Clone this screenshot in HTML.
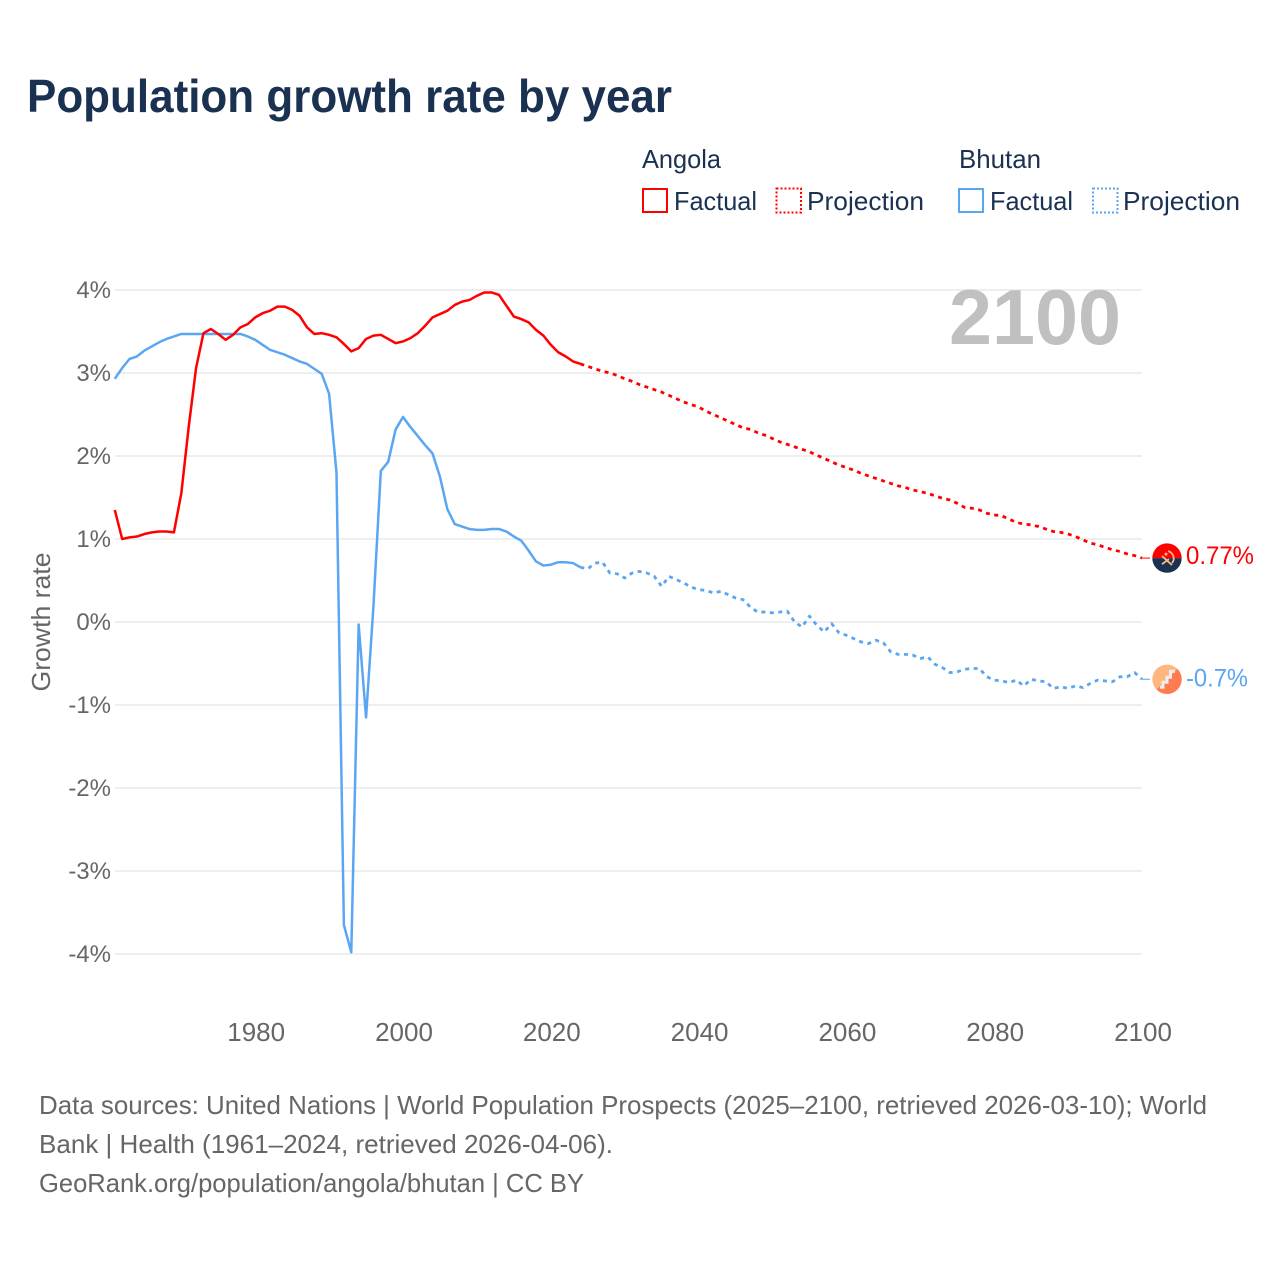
<!DOCTYPE html>
<html lang="en">
<head>
<meta charset="utf-8">
<title>Population growth rate by year</title>
<style>
html,body{margin:0;padding:0;background:#fff;width:1280px;height:1280px;overflow:hidden}
svg{display:block}
text{font-family:"Liberation Sans",sans-serif}
</style>
</head>
<body>
<svg id="chart" xmlns="http://www.w3.org/2000/svg" width="1280" height="1280" viewBox="0 0 1280 1280">
  <text x="27" y="112" font-size="46" font-weight="700" fill="#1a3152" textLength="645" lengthAdjust="spacingAndGlyphs">Population growth rate by year</text>

  <g font-size="26" fill="#1a3152">
    <text x="642" y="168" textLength="79" lengthAdjust="spacingAndGlyphs">Angola</text>
    <rect x="643" y="189" width="24" height="23" fill="none" stroke="#ff0000" stroke-width="2"/>
    <text x="674" y="210" textLength="83" lengthAdjust="spacingAndGlyphs">Factual</text>
    <rect x="776.5" y="188.500" width="24.500" height="24" fill="none" stroke="#ff0000" stroke-width="2" stroke-dasharray="2 2"/>
    <text x="807" y="210" textLength="117" lengthAdjust="spacingAndGlyphs">Projection</text>
    <text x="959" y="168" textLength="82" lengthAdjust="spacingAndGlyphs">Bhutan</text>
    <rect x="959" y="189" width="24" height="23" fill="none" stroke="#5ba6f2" stroke-width="2"/>
    <text x="990" y="210" textLength="83" lengthAdjust="spacingAndGlyphs">Factual</text>
    <rect x="1093" y="188.500" width="24.500" height="24" fill="none" stroke="#5ba6f2" stroke-width="2" stroke-dasharray="2 2"/>
    <text x="1123" y="210" textLength="117" lengthAdjust="spacingAndGlyphs">Projection</text>
  </g>

  <g id="grid"></g>
  <text x="949" y="344" font-size="78" font-weight="700" fill="#c0c0c0" textLength="172" lengthAdjust="spacingAndGlyphs">2100</text>
  <g id="yticks"></g>
  <g id="xticks"></g>
  <text transform="translate(50 622) rotate(-90)" text-anchor="middle" font-size="26" fill="#666666" textLength="139" lengthAdjust="spacingAndGlyphs">Growth rate</text>
  <g id="series"></g>
  <g id="ends"></g>

  <g font-size="26" fill="#666666">
    <text x="39" y="1114" textLength="1168" lengthAdjust="spacingAndGlyphs">Data sources: United Nations | World Population Prospects (2025–2100, retrieved 2026-03-10); World</text>
    <text x="39" y="1153" textLength="574" lengthAdjust="spacingAndGlyphs">Bank | Health (1961–2024, retrieved 2026-04-06).</text>
    <text x="39" y="1192" textLength="545" lengthAdjust="spacingAndGlyphs">GeoRank.org/population/angola/bhutan | CC BY</text>
  </g>
</svg>
<script>
const factualStartYear = 1961;
const projectionStartYear = 2025;
const yTickValues = [4, 3, 2, 1, 0, -1, -2, -3, -4];
const yTickLabels = ["4%", "3%", "2%", "1%", "0%", "-1%", "-2%", "-3%", "-4%"];
const xTickYears = [1980, 2000, 2020, 2040, 2060, 2080, 2100];
const xTickLabels = ["1980", "2000", "2020", "2040", "2060", "2080", "2100"];
const angolaFactual = [1.35,1.00,1.02,1.03,1.06,1.08,1.09,1.09,1.08,1.55,2.35,3.06,3.48,3.53,3.47,3.40,3.46,3.55,3.59,3.67,3.72,3.75,3.80,3.80,3.76,3.69,3.55,3.47,3.48,3.46,3.43,3.35,3.26,3.30,3.41,3.45,3.46,3.41,3.36,3.38,3.42,3.48,3.57,3.67,3.71,3.75,3.82,3.86,3.88,3.93,3.97,3.97,3.94,3.81,3.68,3.65,3.61,3.52,3.45,3.34,3.25,3.20,3.14,3.11];
const angolaProjection = [3.08,3.05,3.02,3.00,2.97,2.93,2.90,2.86,2.83,2.80,2.77,2.73,2.69,2.65,2.62,2.59,2.54,2.50,2.46,2.42,2.38,2.34,2.32,2.28,2.25,2.21,2.17,2.14,2.11,2.08,2.05,2.01,1.97,1.93,1.89,1.86,1.83,1.79,1.76,1.73,1.70,1.67,1.64,1.62,1.59,1.57,1.55,1.52,1.49,1.47,1.43,1.38,1.37,1.35,1.31,1.29,1.28,1.24,1.20,1.18,1.17,1.15,1.12,1.09,1.08,1.06,1.03,0.99,0.95,0.93,0.90,0.87,0.85,0.82,0.80,0.77];
const bhutanFactual = [2.93,3.06,3.17,3.20,3.27,3.32,3.37,3.41,3.44,3.47,3.47,3.47,3.47,3.47,3.47,3.47,3.47,3.47,3.44,3.40,3.34,3.28,3.25,3.22,3.18,3.14,3.11,3.05,2.99,2.75,1.80,-3.65,-3.98,-0.03,-1.15,0.19,1.82,1.93,2.32,2.47,2.35,2.24,2.13,2.03,1.75,1.36,1.18,1.15,1.12,1.11,1.11,1.12,1.12,1.09,1.03,0.98,0.86,0.73,0.68,0.69,0.72,0.72,0.71,0.66];
const bhutanProjection = [0.64,0.71,0.72,0.59,0.58,0.53,0.59,0.61,0.59,0.55,0.43,0.55,0.51,0.47,0.42,0.39,0.38,0.35,0.37,0.33,0.29,0.27,0.18,0.12,0.12,0.11,0.12,0.13,0.00,-0.06,0.07,-0.04,-0.12,-0.02,-0.13,-0.16,-0.20,-0.24,-0.26,-0.22,-0.25,-0.36,-0.39,-0.39,-0.40,-0.44,-0.42,-0.51,-0.55,-0.61,-0.60,-0.57,-0.56,-0.56,-0.66,-0.70,-0.71,-0.73,-0.70,-0.77,-0.69,-0.71,-0.72,-0.80,-0.78,-0.80,-0.77,-0.79,-0.74,-0.70,-0.71,-0.72,-0.66,-0.66,-0.61,-0.69];
const endValueLabels = ["0.77%", "-0.7%"];

const NS = "http://www.w3.org/2000/svg";
const xScale = function (year) { return 1142 + (year - 2100) * 7.39; };
const yScale = function (value) { return 622 - value * 83; };
const makeEl = function (tag, parentId) {
  const el = document.createElementNS(NS, tag);
  document.getElementById(parentId).appendChild(el);
  return el;
};
const pointsFor = function (startYear, values) {
  return values.map(function (v, i) {
    return xScale(startYear + i).toFixed(2) + "," + yScale(v).toFixed(2);
  });
};

yTickValues.forEach(function (v, i) {
  const line = makeEl("line", "grid");
  
  
  line.setAttribute("x1", 115);
  line.setAttribute("x2", 1142);
  line.setAttribute("y1", yScale(v));
  line.setAttribute("y2", yScale(v));
  line.setAttribute("stroke", "#eeeeee");
  line.setAttribute("stroke-width", 2);
  const label = makeEl("text", "yticks");
  
  
  label.setAttribute("x", 111);
  label.setAttribute("y", yScale(v) + 8);
  label.setAttribute("text-anchor", "end");
  label.setAttribute("font-size", 24);
  label.setAttribute("fill", "#666666");
  label.textContent = yTickLabels[i];
});

xTickYears.forEach(function (year, i) {
  const label = makeEl("text", "xticks");
  
  
  label.setAttribute("x", xScale(year) + 1);
  label.setAttribute("y", 1041);
  label.setAttribute("text-anchor", "middle");
  label.setAttribute("font-size", 26);
  label.setAttribute("fill", "#666666");
  label.textContent = xTickLabels[i];
});

const drawLine = function (el, pts, color, dashed) {
  el.setAttribute("points", pts.join(" "));
  el.setAttribute("fill", "none");
  el.setAttribute("stroke", color);
  el.setAttribute("stroke-width", dashed ? 2.8 : 2.5);
  el.setAttribute("stroke-linejoin", "round");
  if (dashed) { el.setAttribute("stroke-dasharray", "4 4.5"); }
};

const bhutanFactualLine = makeEl("polyline", "series");


drawLine(bhutanFactualLine, pointsFor(factualStartYear, bhutanFactual), "#5ba6f2", false);

const bhutanProjectionLine = makeEl("polyline", "series");


drawLine(bhutanProjectionLine, pointsFor(projectionStartYear - 1, [bhutanFactual[bhutanFactual.length - 1]].concat(bhutanProjection)), "#5ba6f2", true);

const angolaFactualLine = makeEl("polyline", "series");


drawLine(angolaFactualLine, pointsFor(factualStartYear, angolaFactual), "#ff0000", false);

const angolaProjectionLine = makeEl("polyline", "series");


drawLine(angolaProjectionLine, pointsFor(projectionStartYear - 1, [angolaFactual[angolaFactual.length - 1]].concat(angolaProjection)), "#ff0000", true);

const xEnd = xScale(2100);
const angolaY = yScale(angolaProjection[angolaProjection.length - 1]);
const bhutanY = yScale(bhutanProjection[bhutanProjection.length - 1]);

const angolaLeader = makeEl("line", "ends");


angolaLeader.setAttribute("x1", xEnd);
angolaLeader.setAttribute("x2", xEnd + 8);
angolaLeader.setAttribute("y1", angolaY);
angolaLeader.setAttribute("y2", angolaY);
angolaLeader.setAttribute("stroke", "#ff0000");
angolaLeader.setAttribute("stroke-width", 1);

const bhutanLeader = makeEl("line", "ends");


bhutanLeader.setAttribute("x1", xEnd);
bhutanLeader.setAttribute("x2", xEnd + 8);
bhutanLeader.setAttribute("y1", bhutanY);
bhutanLeader.setAttribute("y2", bhutanY);
bhutanLeader.setAttribute("stroke", "#5ba6f2");
bhutanLeader.setAttribute("stroke-width", 1);

const angolaFlag = makeEl("g", "ends");


angolaFlag.setAttribute("transform", "translate(" + (xEnd + 25) + " " + angolaY + ")");
angolaFlag.innerHTML = '<path d="M-14.700 0A14.700 14.700 0 0 1 14.700 0Z" fill="#ff0000"/><path d="M-14.700 0A14.700 14.700 0 0 0 14.700 0Z" fill="#1a3152"/><path d="M1 -7A7.500 7.500 0 0 1 5 5" fill="none" stroke="#ffb77f" stroke-width="1.800"/><path d="M-5 -2L5 7M-5 6L2 1" fill="none" stroke="#ffb77f" stroke-width="1.800"/><circle cx="-1" cy="-4" r="1.500" fill="#ffb77f"/>';

const bhutanFlag = makeEl("g", "ends");


bhutanFlag.setAttribute("transform", "translate(" + (xEnd + 25) + " " + bhutanY + ")");
bhutanFlag.innerHTML = '<circle r="14.700" fill="#ffb77f"/><path d="M10.400 -10.400A14.700 14.700 0 0 1 -10.400 10.400Z" fill="#ff7b50"/><path d="M8 -8L3.500 -8L3.500 -2L0 -2L0 3L-4 3L-4 8L-7 8" fill="none" stroke="#eeeeee" stroke-width="3"/>';

const angolaEndLabel = makeEl("text", "ends");


angolaEndLabel.setAttribute("x", xEnd + 44);
angolaEndLabel.setAttribute("y", angolaY + 6);
angolaEndLabel.setAttribute("font-size", 25);
angolaEndLabel.setAttribute("fill", "#ff0000");
angolaEndLabel.setAttribute("textLength", 68);
angolaEndLabel.setAttribute("lengthAdjust", "spacingAndGlyphs");
angolaEndLabel.textContent = endValueLabels[0];

const bhutanEndLabel = makeEl("text", "ends");


bhutanEndLabel.setAttribute("x", xEnd + 44);
bhutanEndLabel.setAttribute("y", bhutanY + 7);
bhutanEndLabel.setAttribute("font-size", 25);
bhutanEndLabel.setAttribute("fill", "#5ba6f2");
bhutanEndLabel.setAttribute("textLength", 62);
bhutanEndLabel.setAttribute("lengthAdjust", "spacingAndGlyphs");
bhutanEndLabel.textContent = endValueLabels[1];
</script>
</body>
</html>
